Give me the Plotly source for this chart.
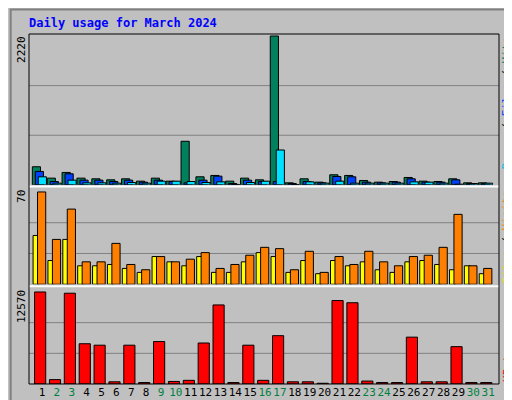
import plotly.graph_objects as go

days = list(range(1, 32))
weekend = [2, 3, 9, 10, 16, 17, 23, 24, 30, 31]

hits = [270, 100, 185, 100, 90, 75, 90, 55, 100, 55, 650, 120, 140, 55, 100, 75,
        2220, 30, 90, 40, 150, 140, 65, 40, 50, 110, 55, 50, 90, 30, 30]
files = [200, 50, 165, 70, 70, 50, 70, 40, 70, 50, 30, 70, 130, 20, 70, 50,
         50, 20, 50, 30, 125, 120, 40, 30, 40, 90, 40, 40, 75, 20, 20]
pages = [120, 25, 70, 30, 30, 25, 35, 25, 55, 55, 50, 35, 45, 5, 35, 55,
         520, 5, 45, 25, 55, 25, 25, 25, 25, 45, 40, 25, 10, 20, 25]
sites = [37, 18, 34, 14, 14, 15, 12, 9, 21, 17, 14, 21, 9, 9, 17, 24,
         21, 9, 18, 8, 18, 14, 17, 11, 9, 17, 18, 15, 11, 14, 8]
visits = [70, 34, 57, 17, 17, 31, 15, 11, 21, 17, 19, 24, 12, 15, 22, 28,
          27, 11, 25, 9, 21, 15, 25, 17, 14, 21, 22, 28, 53, 14, 12]
kbytes = [12570, 600, 12400, 5500, 5300, 300, 5300, 200, 5800, 350, 500, 5600,
          10800, 200, 5300, 500, 6600, 300, 300, 100, 11400, 11100, 400, 200,
          200, 6400, 300, 300, 5100, 200, 200]

font = "DejaVu Sans Mono"
fig = go.Figure()

def bar(y, color, off, w, ax):
    fig.add_trace(go.Bar(x=days, y=y, offset=off, width=w, marker_color=color,
                         marker_line=dict(color="black", width=1),
                         xaxis="x", yaxis=ax, showlegend=False))

bar(hits, "#00805C", -0.65, 0.55, "y")
bar(files, "#0040FF", -0.45, 0.55, "y")
bar(pages, "#00E0FF", -0.25, 0.55, "y")
bar(sites, "#FFFF00", -0.6, 0.4, "y2")
bar(visits, "#FF8000", -0.3, 0.55, "y2")
bar(kbytes, "#FF0000", -0.5, 0.75, "y3")

ticktext = [f"<span style='color:{'#008040' if d in weekend else 'black'}'>{d}</span>"
            for d in days]
grid = dict(showgrid=False, zeroline=False, showticklabels=False, fixedrange=True,
            automargin=False)
fig.update_layout(
    width=512, height=400, barmode="overlay",
    paper_bgcolor="#C0C0C0", plot_bgcolor="#C0C0C0",
    margin=dict(l=21, r=21, t=26, b=24, autoexpand=False),
    font=dict(family=font, size=11, color="black"),
    xaxis=dict(range=[0.126, 31.73], tickvals=days, ticktext=ticktext,
               showgrid=False, ticks="", tickangle=0, automargin=False,
               tickfont=dict(size=11), anchor="y3"),
    yaxis=dict(domain=[0.569, 1], range=[0, 2250], **grid),
    yaxis2=dict(domain=[0.285, 0.56], range=[0, 73], **grid),
    yaxis3=dict(domain=[0, 0.274], range=[0, 13100], **grid),
    showlegend=False,
)

shapes = []
for ax, mx in [("y", 2220), ("y2", 70), ("y3", 12570)]:
    for f in (1 / 3, 2 / 3):
        shapes.append(dict(type="line", xref="paper", yref=ax, x0=0, x1=1,
                           y0=mx * f, y1=mx * f, line=dict(color="#808080", width=1),
                           layer="below"))
for yp in (0.5645, 0.2795):
    shapes.append(dict(type="line", xref="paper", yref="paper", x0=0, x1=1,
                       y0=yp, y1=yp, line=dict(color="white", width=2)))
shapes.append(dict(type="rect", xref="paper", yref="paper", x0=0, x1=1, y0=0, y1=1,
                   line=dict(color="black", width=1)))
shapes.append(dict(type="rect", xref="paper", yref="paper", x0=-0.039, x1=1.039,
                   y0=-0.065, y1=1.07, line=dict(color="#808080", width=2)))
fig.update_layout(shapes=shapes)

ann = [
    dict(text="<b>Daily usage for March 2024</b>", x=-0.004, y=1.031, xanchor="left",
         yanchor="middle", font=dict(color="#0000FF", size=12)),
    dict(text="2220", x=-0.016, y=1, xanchor="center", yanchor="top", textangle=-90),
    dict(text="70", x=-0.016, y=0.56, xanchor="center", yanchor="top", textangle=-90),
    dict(text="12570", x=-0.016, y=0.274, xanchor="center", yanchor="top", textangle=-90),
    dict(text="<span style='color:#00C0E0'>Pages</span> / <span style='color:#0040FF'>Files</span>"
              " / <span style='color:#00805C'>Hits</span>",
         x=1.017, y=1, xanchor="center", yanchor="top", textangle=-90),
    dict(text="<span style='color:#E0E000'>Sites</span> / <span style='color:#FF8000'>Visits</span>",
         x=1.017, y=0.56, xanchor="center", yanchor="top", textangle=-90),
    dict(text="<span style='color:#FF0000'>KBytes</span>",
         x=1.017, y=0, xanchor="center", yanchor="bottom", textangle=-90),
]
for a in ann:
    a.update(xref="paper", yref="paper", showarrow=False)
    a.setdefault("font", dict(size=11))
fig.update_layout(annotations=ann)

fig.write_html("out.html")
